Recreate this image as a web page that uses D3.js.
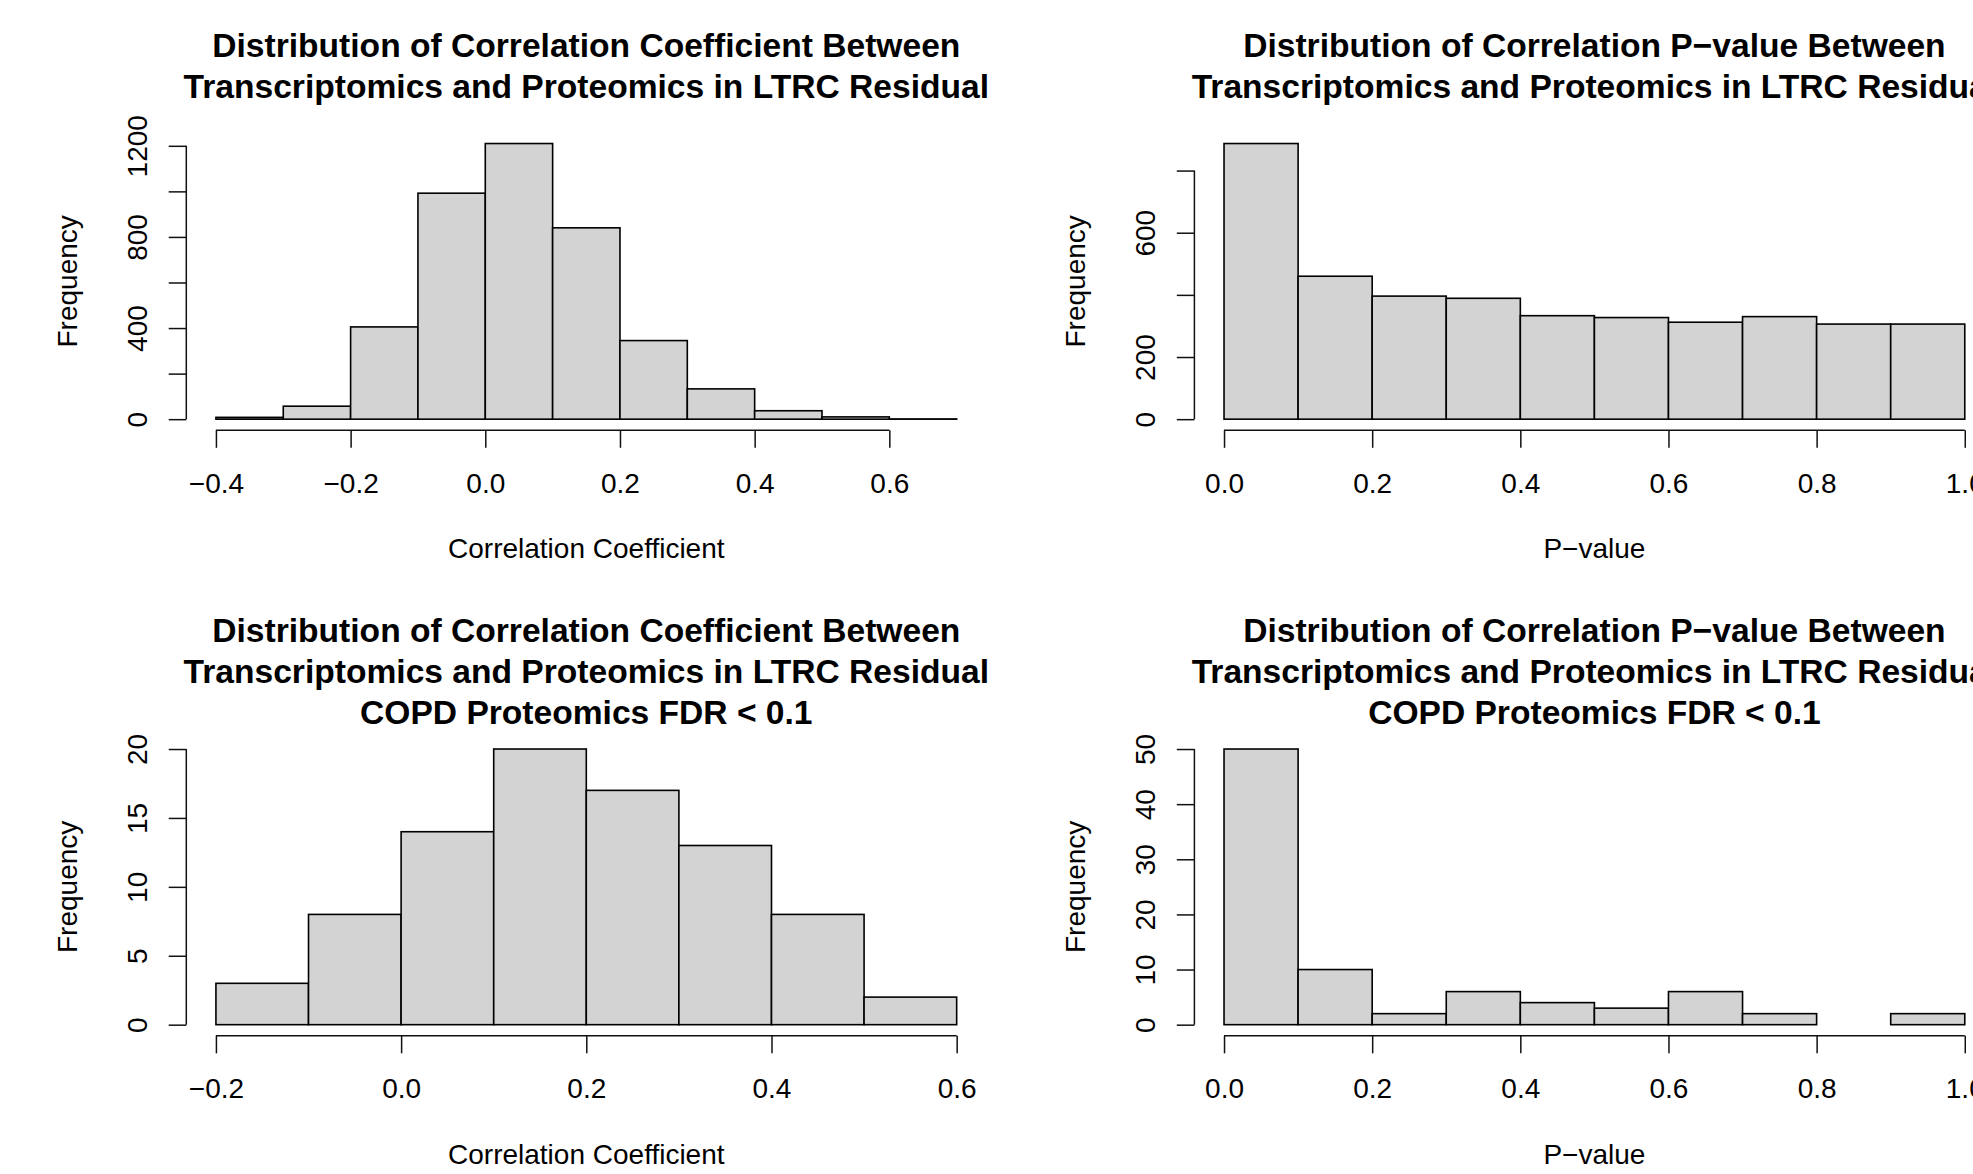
<!DOCTYPE html>
<html>
<head>
<meta charset="utf-8">
<script src="https://cdn.jsdelivr.net/npm/d3@7.9.0/dist/d3.min.js"></script>
<style>
  body { margin: 0; background: #fff; }
  svg { display: block; font-family: "Liberation Sans", Arial, Helvetica, sans-serif; }
</style>
</head>
<body>
<svg id="chart" width="1973" height="1174"></svg>
<script>
// histogram bins (edges) and counts
const corrEdgesAll = [-0.4, -0.3, -0.2, -0.1, 0.0, 0.1, 0.2, 0.3, 0.4, 0.5, 0.6, 0.7];
const corrCountsAll = [8, 57, 405, 992, 1210, 840, 345, 133, 37, 10, 1];
const pvalEdges = [0.0, 0.1, 0.2, 0.3, 0.4, 0.5, 0.6, 0.7, 0.8, 0.9, 1.0];
const pvalCountsAll = [887, 460, 396, 389, 333, 327, 312, 330, 306, 306];
const corrEdgesFdr = [-0.2, -0.1, 0.0, 0.1, 0.2, 0.3, 0.4, 0.5, 0.6];
const corrCountsFdr = [3, 8, 14, 20, 17, 13, 8, 2];
const pvalCountsFdr = [50, 10, 2, 6, 4, 3, 6, 2, 0, 2];

// ticks
const corrTicksAll = [-0.4, -0.2, 0.0, 0.2, 0.4, 0.6];
const corrTicksFdr = [-0.2, 0.0, 0.2, 0.4, 0.6];
const pvalTicks = [0.0, 0.2, 0.4, 0.6, 0.8, 1.0];
const freqTicksCorrAll = [0, 200, 400, 600, 800, 1000, 1200];
const freqLabelsCorrAll = [0, 400, 800, 1200];
const freqTicksPvalAll = [0, 200, 400, 600, 800];
const freqLabelsPvalAll = [0, 200, 600];
const freqTicksCorrFdr = [0, 5, 10, 15, 20];
const freqTicksPvalFdr = [0, 10, 20, 30, 40, 50];

const titleCorr = ['Distribution of Correlation Coefficient Between', 'Transcriptomics and Proteomics in LTRC Residual'];
const titlePval = ['Distribution of Correlation P\u2212value Between', 'Transcriptomics and Proteomics in LTRC Residual'];
const titleFdr = 'COPD Proteomics FDR < 0.1';

const W = 800, H = 297.7, TICK = 17.6;
const FONT = 28, TITLE_FONT = 33.6;

const panels = [
  { left: 186.3, top: 132.5, edges: corrEdgesAll, counts: corrCountsAll, xTicks: corrTicksAll,
    yTicks: freqTicksCorrAll, yLabels: freqLabelsCorrAll, title: titleCorr, xlab: 'Correlation Coefficient' },
  { left: 1194.4, top: 132.5, edges: pvalEdges, counts: pvalCountsAll, xTicks: pvalTicks,
    yTicks: freqTicksPvalAll, yLabels: freqLabelsPvalAll, title: titlePval, xlab: 'P\u2212value' },
  { left: 186.3, top: 738, edges: corrEdgesFdr, counts: corrCountsFdr, xTicks: corrTicksFdr,
    yTicks: freqTicksCorrFdr, yLabels: freqTicksCorrFdr, title: [...titleCorr, titleFdr], xlab: 'Correlation Coefficient' },
  { left: 1194.4, top: 738, edges: pvalEdges, counts: pvalCountsFdr, xTicks: pvalTicks,
    yTicks: freqTicksPvalFdr, yLabels: freqTicksPvalFdr, title: [...titlePval, titleFdr], xlab: 'P\u2212value' },
];

const svg = d3.select('#chart');

function drawHist(p) {
  const g = svg.append('g').attr('transform', `translate(${p.left},${p.top})`);
  const lo = p.edges[0], hi = p.edges[p.edges.length - 1];
  const padX = (hi - lo) * 0.04;
  const ymax = d3.max(p.counts);
  const x = d3.scaleLinear().domain([lo - padX, hi + padX]).range([0, W]);
  const y = d3.scaleLinear().domain([-0.04 * ymax, 1.04 * ymax]).range([H, 0]);

  // bars
  g.selectAll('rect.bar')
    .data(p.counts)
    .join('rect')
    .attr('class', 'bar')
    .attr('x', (d, i) => x(p.edges[i]))
    .attr('width', (d, i) => x(p.edges[i + 1]) - x(p.edges[i]))
    .attr('y', d => y(d))
    .attr('height', d => y(0) - y(d))
    .attr('fill', '#d3d3d3')
    .attr('stroke', '#000')
    .attr('stroke-width', 1.6);

  // x axis, line only spans the ticks (R style)
  const xa = g.append('g')
    .attr('transform', `translate(0,${H})`)
    .call(d3.axisBottom(x).tickValues(p.xTicks).tickFormat(d3.format('.1f')).tickSize(TICK));
  xa.select('.domain').attr('d', `M${x(p.xTicks[0])},0H${x(p.xTicks[p.xTicks.length - 1])}`);
  xa.selectAll('text').attr('y', 62.6).attr('dy', null);

  // y axis with rotated labels
  const ya = g.append('g')
    .call(d3.axisLeft(y).tickValues(p.yTicks)
      .tickFormat(d => p.yLabels.includes(d) ? d : '').tickSize(TICK));
  ya.select('.domain').attr('d', `M0,${y(p.yTicks[0])}V${y(p.yTicks[p.yTicks.length - 1])}`);
  ya.selectAll('text')
    .attr('x', null).attr('dy', '0.36em')
    .attr('text-anchor', 'middle')
    .attr('transform', 'translate(-49,0) rotate(-90)');

  [xa, ya].forEach(a => {
    a.attr('font-size', FONT).attr('font-family', null);
    a.selectAll('path, line').attr('stroke', '#111').attr('stroke-width', 1.5);
    a.selectAll('text').attr('fill', '#000');
  });

  // axis titles
  g.append('text')
    .attr('x', W / 2).attr('y', H + 128)
    .attr('text-anchor', 'middle').attr('font-size', FONT)
    .text(p.xlab);
  g.append('text')
    .attr('transform', `translate(-109,${H / 2}) rotate(-90)`)
    .attr('text-anchor', 'middle').attr('font-size', FONT)
    .text('Frequency');

  // main title, lines centred as a block above the plot
  const n = p.title.length;
  g.append('g').selectAll('text')
    .data(p.title)
    .join('text')
    .attr('x', W / 2)
    .attr('y', (d, i) => -55 + (i - (n - 1) / 2) * 41)
    .attr('text-anchor', 'middle')
    .attr('font-size', TITLE_FONT)
    .attr('font-weight', 'bold')
    .text(d => d);
}

panels.forEach(drawHist);
</script>
</body>
</html>
